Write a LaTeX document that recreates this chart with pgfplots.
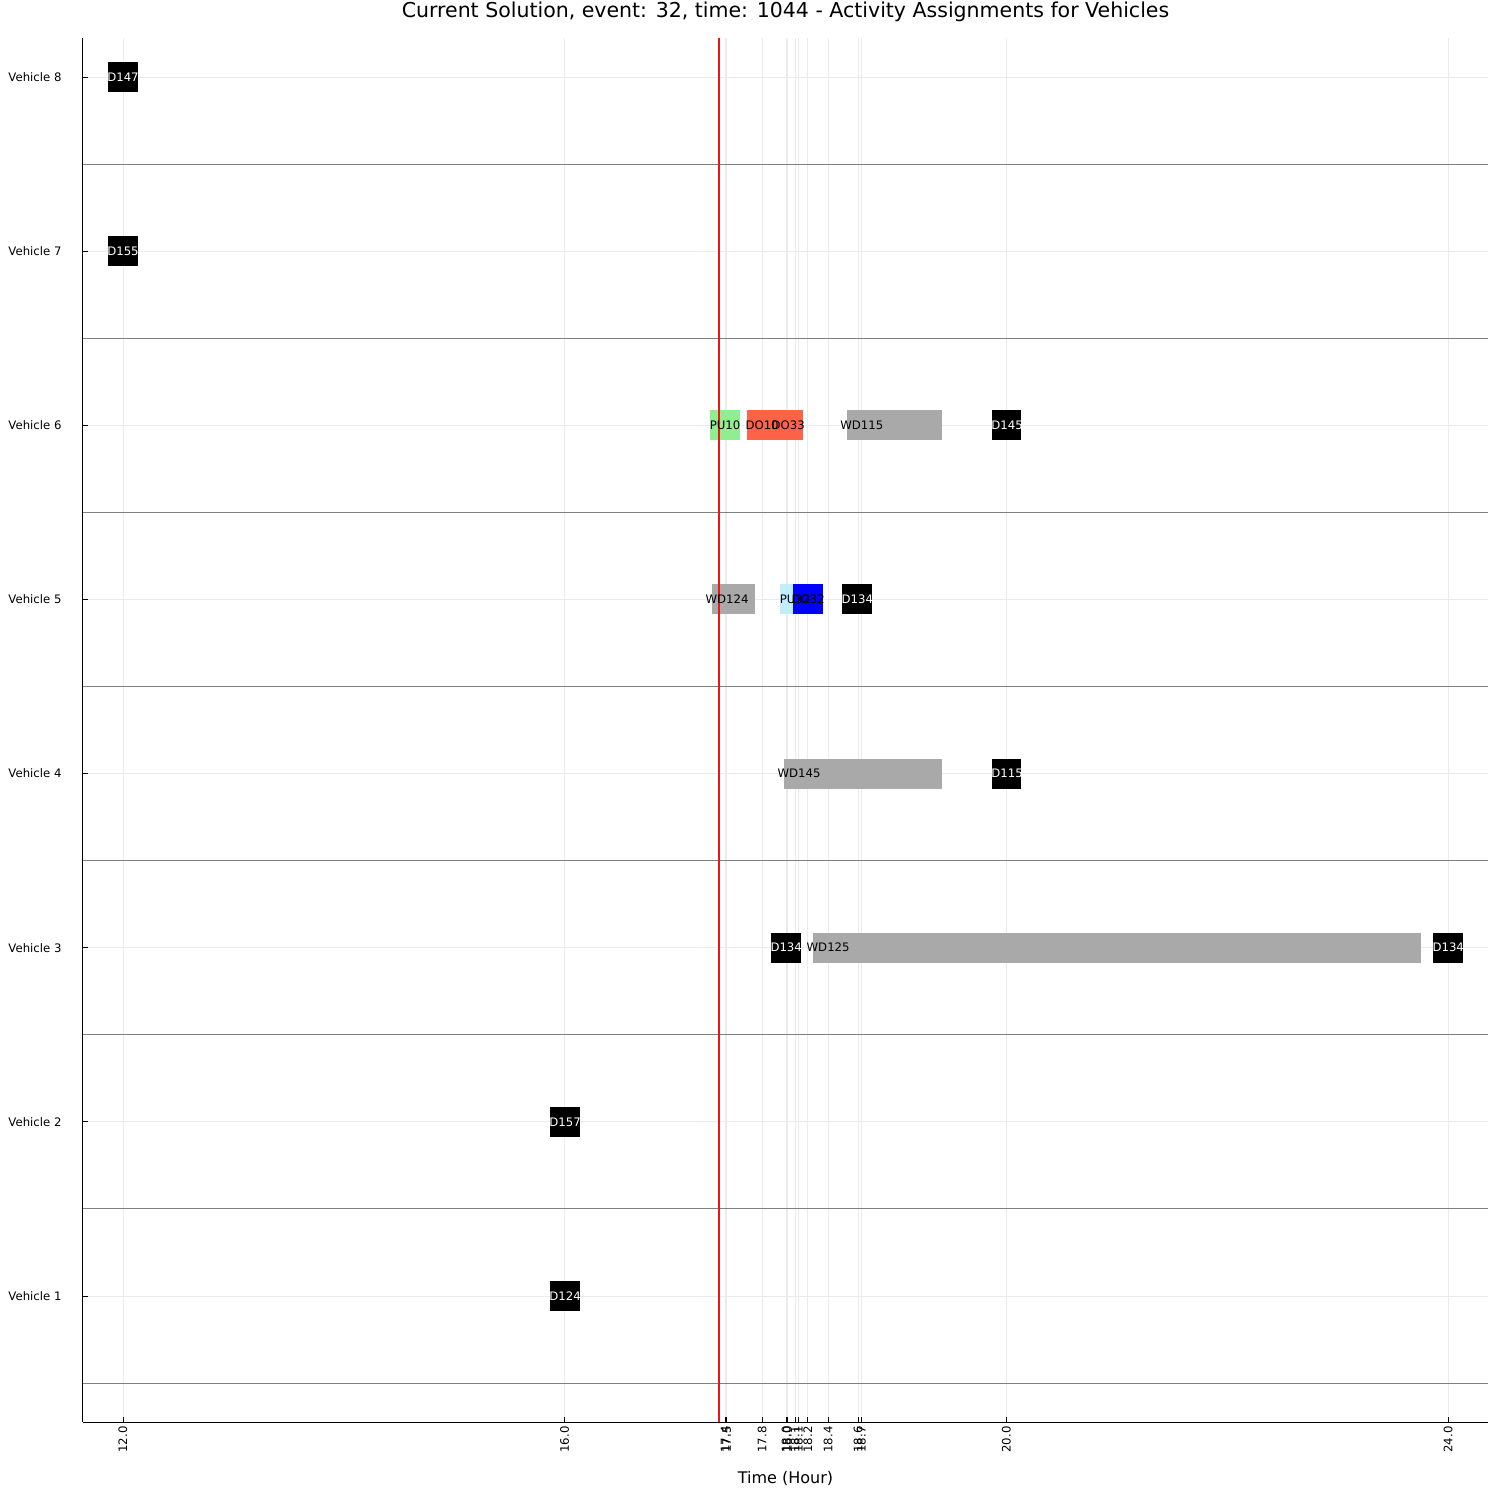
\documentclass[border=0pt]{standalone}
\usepackage{pgfplots}
\pgfplotsset{compat=1.18}
\usepackage{fontspec}
\setmainfont{DejaVu Sans}
\definecolor{gbar}{RGB}{169,169,169}
\definecolor{pugreen}{RGB}{144,238,144}
\definecolor{tomato}{RGB}{255,99,71}
\definecolor{lblue}{RGB}{191,239,255}
\definecolor{sepgray}{RGB}{128,128,128}
\definecolor{gridc}{RGB}{235,235,235}
\definecolor{nowred}{RGB}{240,20,20}
\newcommand{\fs}{\fontsize{11.7}{13}\selectfont}
\begin{document}
\begin{tikzpicture}
\path[use as bounding box] (-83pt,-78pt) rectangle (1417pt,1422pt);
\begin{axis}[
  at={(0,0)}, anchor=south west,
  scale only axis, width=1405pt, height=1384pt,
  xmin=11.638, xmax=24.362, ymin=0.2764, ymax=8.224,
  axis x line*=bottom, axis y line*=left,
  axis line style={black, line width=1pt, -},
  xtick={12,16,17.453,17.468,17.788,18.005,18.017,18.087,18.117,18.202,18.386,18.658,18.688,20,24},
  xticklabels={12.0,16.0,17.4,17.5,17.8,18.0,18.0,18.1,18.1,18.2,18.4,18.6,18.7,20.0,24.0},
  ytick={1,2,3,4,5,6,7,8},
  yticklabels={Vehicle 1,Vehicle 2,Vehicle 3,Vehicle 4,Vehicle 5,Vehicle 6,Vehicle 7,Vehicle 8},
  xticklabel style={rotate=90, anchor=east, font=\fs, xshift=-1pt},
  yticklabel style={font=\fs, anchor=east, xshift=-18pt},
  tick align=inside, major tick length=5pt,
  tick style={black, line width=0.8pt},
  grid=major, major grid style={gridc, line width=0.8pt},
  title={Current Solution, event: 32, time: 1044 - Activity Assignments for Vehicles},
  title style={at={(axis description cs:0.5,1)}, anchor=center, yshift=20pt, font=\fontsize{20.5}{23}\selectfont},
  xlabel={Time (Hour)},
  xlabel style={at={(axis description cs:0.5,0)}, anchor=center, yshift=-56pt, font=\fontsize{16}{18}\selectfont},
  clip=false,
]
% separators
\addplot[sepgray, line width=1pt] coordinates {(11.638,0.5) (24.362,0.5)};
\addplot[sepgray, line width=1pt] coordinates {(11.638,1.5) (24.362,1.5)};
\addplot[sepgray, line width=1pt] coordinates {(11.638,2.5) (24.362,2.5)};
\addplot[sepgray, line width=1pt] coordinates {(11.638,3.5) (24.362,3.5)};
\addplot[sepgray, line width=1pt] coordinates {(11.638,4.5) (24.362,4.5)};
\addplot[sepgray, line width=1pt] coordinates {(11.638,5.5) (24.362,5.5)};
\addplot[sepgray, line width=1pt] coordinates {(11.638,6.5) (24.362,6.5)};
\addplot[sepgray, line width=1pt] coordinates {(11.638,7.5) (24.362,7.5)};
% Vehicle 8
\addplot[fill=black, draw=none] coordinates {(11.864,7.914) (12.136,7.914) (12.136,8.086) (11.864,8.086)} --cycle;
% Vehicle 7
\addplot[fill=black, draw=none] coordinates {(11.864,6.914) (12.136,6.914) (12.136,7.086) (11.864,7.086)} --cycle;
% Vehicle 6
\addplot[fill=pugreen, draw=none] coordinates {(17.317,5.914) (17.589,5.914) (17.589,6.086) (17.317,6.086)} --cycle;
\addplot[fill=tomato, draw=none] coordinates {(17.652,5.914) (17.924,5.914) (17.924,6.086) (17.652,6.086)} --cycle;
\addplot[fill=tomato, draw=none] coordinates {(17.888,5.914) (18.159,5.914) (18.159,6.086) (17.888,6.086)} --cycle;
\addplot[fill=gbar, draw=none] coordinates {(18.555,5.914) (19.421,5.914) (19.421,6.086) (18.555,6.086)} --cycle;
\addplot[fill=black, draw=none] coordinates {(19.871,5.914) (20.134,5.914) (20.134,6.086) (19.871,6.086)} --cycle;
% Vehicle 5
\addplot[fill=gbar, draw=none] coordinates {(17.335,4.914) (17.725,4.914) (17.725,5.086) (17.335,5.086)} --cycle;
\addplot[fill=lblue, draw=none] coordinates {(17.951,4.914) (18.069,4.914) (18.069,5.086) (17.951,5.086)} --cycle;
\addplot[fill=blue, draw=none] coordinates {(18.069,4.914) (18.341,4.914) (18.341,5.086) (18.069,5.086)} --cycle;
\addplot[fill=black, draw=none] coordinates {(18.514,4.914) (18.786,4.914) (18.786,5.086) (18.514,5.086)} --cycle;
% Vehicle 4
\addplot[fill=gbar, draw=none] coordinates {(17.987,3.914) (19.418,3.914) (19.418,4.086) (17.987,4.086)} --cycle;
\addplot[fill=black, draw=none] coordinates {(19.871,3.914) (20.134,3.914) (20.134,4.086) (19.871,4.086)} --cycle;
% Vehicle 3
\addplot[fill=black, draw=none] coordinates {(17.870,2.914) (18.141,2.914) (18.141,3.086) (17.870,3.086)} --cycle;
\addplot[fill=gbar, draw=none] coordinates {(18.250,2.914) (23.757,2.914) (23.757,3.086) (18.250,3.086)} --cycle;
\addplot[fill=black, draw=none] coordinates {(23.866,2.914) (24.138,2.914) (24.138,3.086) (23.866,3.086)} --cycle;
% Vehicle 2
\addplot[fill=black, draw=none] coordinates {(15.868,1.914) (16.140,1.914) (16.140,2.086) (15.868,2.086)} --cycle;
% Vehicle 1
\addplot[fill=black, draw=none] coordinates {(15.868,0.914) (16.140,0.914) (16.140,1.086) (15.868,1.086)} --cycle;
% current time
\addplot[draw=nowred, color=nowred, line width=1.6pt, mark=none, forget plot] table[row sep=\\] {x y\\ 17.4 0.2764\\ 17.4 8.224\\};
% labels
\begin{scope}[every node/.style={font=\fs, inner sep=0pt}]
\node[white] at (axis cs:12.0,8) {D147};
\node[white] at (axis cs:12.0,7) {D155};
\node at (axis cs:17.453,6) {PU10};
\node at (axis cs:17.788,6) {DO10};
\node at (axis cs:18.024,6) {DO33};
\node at (axis cs:18.691,6) {WD115};
\node[white] at (axis cs:20.007,6) {D145};
\node at (axis cs:17.471,5) {WD124};
\node at (axis cs:18.087,5) {PU32};
\node at (axis cs:18.205,5) {DO32};
\node[white] at (axis cs:18.650,5) {D134};
\node at (axis cs:18.123,4) {WD145};
\node[white] at (axis cs:20.007,4) {D115};
\node[white] at (axis cs:18.006,3) {D134};
\node at (axis cs:18.386,3) {WD125};
\node[white] at (axis cs:24.002,3) {D134};
\node[white] at (axis cs:16.004,2) {D157};
\node[white] at (axis cs:16.004,1) {D124};
\end{scope}
\end{axis}
\end{tikzpicture}
\end{document}
